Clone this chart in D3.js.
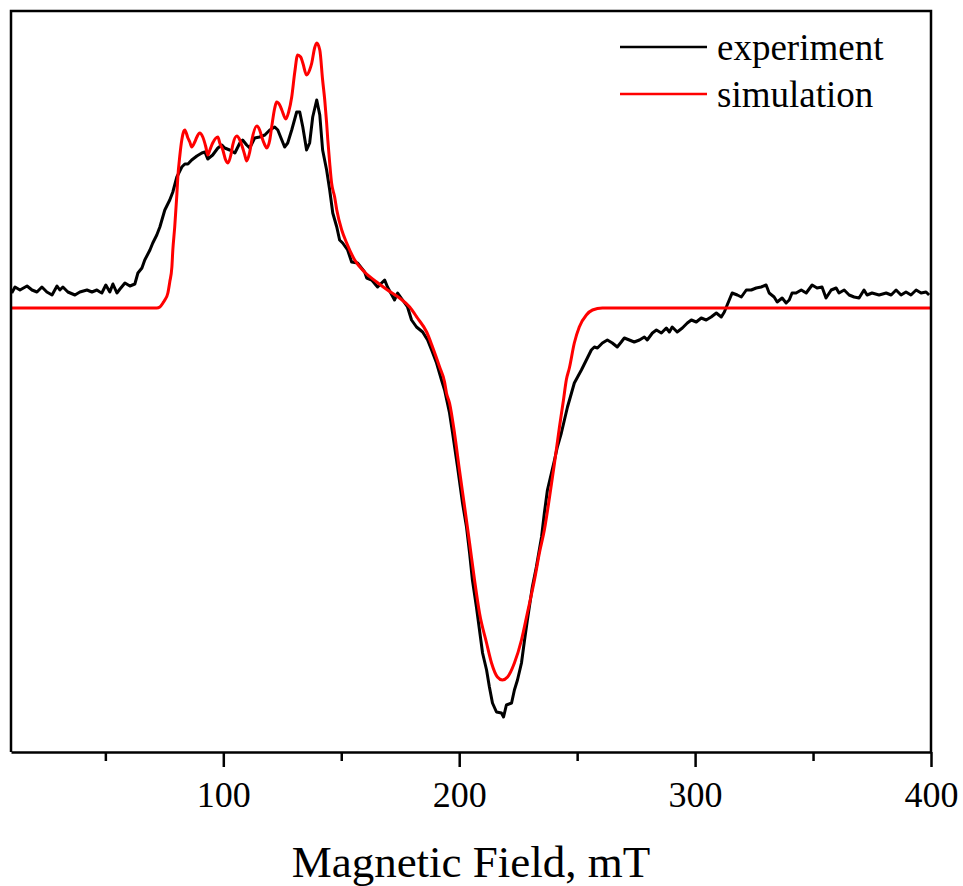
<!DOCTYPE html>
<html>
<head>
<meta charset="utf-8">
<script src="https://cdn.jsdelivr.net/npm/d3@7"></script>
<style>
    html, body { margin: 0; padding: 0; background: #fff; }
    #epr-chart { width: 963px; height: 886px; }
    text { font-family: "Liberation Serif", "Times New Roman", serif; fill: #000; }
</style>
</head>
<body>
<div id="epr-chart"></div>
<script>

// magnetic field (mT) and signal (arb. units)
const expField = [10.3, 11.7, 13.8, 16.8, 18.9, 21.0, 23.1, 25.2, 27.4, 29.5, 30.7, 32.0, 34.1, 37.1, 39.2, 42.2, 44.3, 46.4, 47.7, 48.5,
    50.2, 51.9, 53.2, 54.9, 56.2, 58.3, 60.4, 62.5, 63.8, 65.5, 66.7, 68.9, 70.1, 71.8, 73.1, 75.2, 77.3, 78.6, 80.3, 82.4,
    83.7, 85.0, 86.6, 88.8, 90.9, 92.2, 93.4, 95.5, 97.7, 99.4, 100.6, 102.7, 104.9, 107.0, 108.2, 109.9, 111.2, 113.3, 115.4, 117.6,
    119.7, 121.8, 123.1, 124.8, 126.0, 127.3, 129.0, 131.1, 132.4, 133.7, 135.3, 136.6, 137.9, 139.6, 140.9, 142.1, 143.8, 145.1, 146.4, 148.1,
    149.3, 150.6, 152.7, 154.4, 156.9, 159.9, 160.8, 162.9, 165.4, 168.4, 169.6, 172.6, 173.9, 176.0, 178.1, 179.8, 181.9, 184.5, 186.6, 188.3,
    190.4, 192.5, 193.8, 195.9, 197.2, 199.3, 201.4, 203.1, 204.4, 205.6, 207.3, 208.6, 209.9, 211.6, 212.8, 214.1, 215.8, 217.9, 218.8, 220.0,
    222.2, 223.4, 224.7, 226.4, 227.7, 228.9, 231.0, 232.7, 234.9, 236.1, 237.4, 239.1, 240.4, 241.6, 243.3, 244.6, 245.9, 247.6, 248.8, 251.8,
    253.9, 256.0, 257.3, 258.6, 260.7, 262.8, 264.9, 267.0, 268.7, 270.0, 272.1, 274.2, 276.4, 278.5, 279.7, 281.9, 283.6, 285.7, 287.8, 289.1,
    290.3, 292.4, 294.6, 296.7, 298.4, 300.5, 302.6, 304.7, 306.8, 309.0, 311.1, 312.4, 313.6, 315.7, 317.9, 319.6, 321.7, 323.8, 325.9, 328.0,
    330.1, 331.4, 333.5, 334.8, 336.9, 338.6, 339.9, 341.1, 342.8, 345.0, 347.1, 349.6, 351.7, 353.8, 355.5, 357.7, 359.8, 361.0, 363.2, 365.3,
    367.4, 369.5, 371.6, 372.9, 375.0, 378.0, 381.0, 383.1, 385.2, 387.3, 389.4, 391.5, 393.7, 395.8, 397.9, 399.2];

const expSignal = [0.15, 0.21, 0.18, 0.22, 0.18, 0.16, 0.21, 0.16, 0.13, 0.22, 0.18, 0.21, 0.16, 0.13, 0.16, 0.18, 0.16, 0.18, 0.16, 0.15,
    0.23, 0.16, 0.24, 0.15, 0.19, 0.25, 0.22, 0.24, 0.35, 0.40, 0.48, 0.58, 0.65, 0.73, 0.81, 0.98, 1.08, 1.16, 1.31, 1.41,
    1.44, 1.44, 1.48, 1.52, 1.55, 1.56, 1.49, 1.53, 1.60, 1.63, 1.60, 1.58, 1.55, 1.65, 1.68, 1.63, 1.60, 1.70, 1.71, 1.73,
    1.78, 1.81, 1.78, 1.68, 1.61, 1.65, 1.78, 1.96, 1.96, 1.81, 1.58, 1.65, 1.91, 2.08, 1.93, 1.58, 1.38, 1.18, 0.95, 0.81,
    0.68, 0.65, 0.58, 0.46, 0.45, 0.36, 0.30, 0.28, 0.21, 0.28, 0.21, 0.08, 0.15, 0.08, 0.01, -0.12, -0.19, -0.24, -0.32, -0.42,
    -0.55, -0.72, -0.82, -1.05, -1.25, -1.59, -1.95, -2.19, -2.45, -2.72, -2.99, -3.22, -3.45, -3.62, -3.79, -3.95, -4.04, -4.05, -4.09, -3.97,
    -3.95, -3.82, -3.72, -3.55, -3.32, -3.12, -2.79, -2.59, -2.29, -2.05, -1.82, -1.65, -1.52, -1.39, -1.25, -1.12, -0.99, -0.85, -0.75, -0.62,
    -0.52, -0.42, -0.39, -0.40, -0.35, -0.32, -0.35, -0.39, -0.34, -0.30, -0.32, -0.34, -0.32, -0.29, -0.32, -0.25, -0.22, -0.25, -0.20, -0.24,
    -0.19, -0.24, -0.20, -0.15, -0.12, -0.14, -0.10, -0.12, -0.09, -0.05, -0.09, -0.04, 0.03, 0.15, 0.13, 0.11, 0.18, 0.18, 0.20, 0.21,
    0.23, 0.15, 0.11, 0.06, 0.10, 0.05, 0.08, 0.15, 0.15, 0.18, 0.15, 0.23, 0.20, 0.21, 0.10, 0.18, 0.20, 0.15, 0.18, 0.13,
    0.11, 0.10, 0.18, 0.13, 0.15, 0.13, 0.15, 0.13, 0.18, 0.13, 0.16, 0.13, 0.18, 0.15, 0.16, 0.13];

const simField = [10.0, 71.8, 73.1, 74.4, 75.2, 76.5, 77.3, 78.2, 78.6, 79.4, 80.3, 80.7, 81.6, 82.4, 83.3, 83.7, 85.0, 85.8, 86.6, 87.9,
    88.8, 90.0, 91.3, 92.6, 93.4, 94.3, 95.5, 97.7, 98.5, 99.8, 101.0, 102.0, 103.2, 104.0, 105.7, 107.0, 107.8, 109.1, 109.9, 111.2,
    112.1, 114.2, 115.4, 116.3, 117.6, 118.4, 119.7, 120.5, 121.8, 122.6, 123.9, 124.8, 126.5, 127.7, 129.0, 130.3, 131.5, 132.8, 133.7, 135.3,
    136.6, 137.5, 138.7, 139.6, 140.9, 142.1, 143.0, 143.8, 144.3, 145.1, 145.9, 147.2, 148.1, 150.2, 152.3, 155.7, 159.9, 165.0, 169.6, 174.7,
    179.0, 182.3, 186.2, 188.7, 191.7, 193.8, 194.6, 195.9, 198.0, 200.1, 202.3, 204.4, 206.5, 208.6, 211.6, 213.7, 216.2, 218.3, 220.5, 223.4,
    226.4, 228.9, 231.9, 234.0, 236.1, 238.3, 240.4, 242.5, 244.2, 245.4, 246.7, 248.8, 250.9, 253.9, 256.5, 260.7, 400.0];

const simSignal = [0, 0, 0.01, 0.05, 0.08, 0.15, 0.26, 0.41, 0.58, 0.81, 1.13, 1.30, 1.53, 1.68, 1.77, 1.78, 1.70, 1.66, 1.61, 1.66,
    1.71, 1.75, 1.71, 1.61, 1.53, 1.58, 1.65, 1.71, 1.65, 1.58, 1.48, 1.45, 1.53, 1.63, 1.72, 1.68, 1.63, 1.53, 1.47, 1.56,
    1.68, 1.82, 1.78, 1.71, 1.63, 1.60, 1.68, 1.81, 2.00, 2.06, 2.03, 1.98, 1.89, 1.96, 2.11, 2.36, 2.53, 2.51, 2.45, 2.33,
    2.38, 2.45, 2.60, 2.65, 2.58, 2.28, 2.08, 1.85, 1.68, 1.45, 1.25, 1.11, 0.98, 0.78, 0.65, 0.48, 0.36, 0.26, 0.18, 0.10,
    0.01, -0.10, -0.24, -0.39, -0.59, -0.74, -0.85, -0.95, -1.25, -1.62, -1.99, -2.35, -2.72, -3.05, -3.35, -3.55, -3.69, -3.72, -3.69, -3.55,
    -3.32, -3.05, -2.72, -2.45, -2.22, -1.89, -1.55, -1.19, -0.92, -0.72, -0.60, -0.35, -0.19, -0.07, -0.02, 0, 0];

const majorTicks = [100, 200, 300, 400];
const minorTicks = [50, 150, 250, 350];
const seriesNames = ["experiment", "simulation"];
const seriesColors = ["#000000", "#ff0000"];


class SpectrumChart {

    constructor(parentElement) {
        this.parentElement = parentElement;
        this.initVis();
    }

    initVis() {
        let vis = this;

        vis.margin = {top: 11, right: 32, bottom: 134, left: 11};
        vis.width = 963 - vis.margin.left - vis.margin.right;
        vis.height = 886 - vis.margin.top - vis.margin.bottom;

        vis.svg = d3.select("#" + vis.parentElement)
            .append("svg")
            .attr("width", 963)
            .attr("height", 886)
            .append("g")
            .attr("transform", `translate(${vis.margin.left}, ${vis.margin.top})`);

        vis.x = d3.scaleLinear().domain([10, 400]).range([0, vis.width]);
        vis.y = d3.scaleLinear().domain([-4.44, 2.97]).range([vis.height, 0]);

        // noisy trace drawn straight, simulation smoothed
        vis.expLine = d3.line()
            .x(d => vis.x(d[0]))
            .y(d => vis.y(d[1]));

        vis.simLine = d3.line()
            .x(d => vis.x(d[0]))
            .y(d => vis.y(d[1]))
            .curve(d3.curveMonotoneX);

        let experiment = expField.map((f, i) => [f, expSignal[i]]);
        let simulation = simField.map((f, i) => [f, simSignal[i]]);

        vis.svg.append("path")
            .datum(experiment)
            .attr("fill", "none")
            .attr("stroke", seriesColors[0])
            .attr("stroke-width", 3)
            .attr("stroke-linejoin", "round")
            .attr("d", vis.expLine);

        vis.svg.append("path")
            .datum(simulation)
            .attr("fill", "none")
            .attr("stroke", seriesColors[1])
            .attr("stroke-width", 3)
            .attr("stroke-linejoin", "round")
            .attr("d", vis.simLine);

        // frame (no left/top/right ticks)
        vis.svg.append("path")
            .attr("d", `M0,${vis.height}V0H${vis.width}V${vis.height}`)
            .attr("fill", "none")
            .attr("stroke", "#000")
            .attr("stroke-width", 2.5);

        // x axis, major ticks with labels
        let xAxis = vis.svg.append("g")
            .attr("transform", `translate(0, ${vis.height})`)
            .call(d3.axisBottom(vis.x)
                .tickValues(majorTicks)
                .tickSize(15)
                .tickSizeOuter(0)
                .tickPadding(14)
                .tickFormat(d3.format("d")));

        xAxis.select(".domain").attr("stroke-width", 2.5);
        xAxis.selectAll(".tick line").attr("stroke-width", 2.5);
        xAxis.selectAll(".tick text")
            .style("font-family", "'Liberation Serif', 'Times New Roman', serif")
            .style("font-size", "36px");

        // minor ticks
        vis.svg.append("g")
            .attr("transform", `translate(0, ${vis.height})`)
            .call(d3.axisBottom(vis.x).tickValues(minorTicks).tickSize(9).tickSizeOuter(0).tickFormat(""))
            .call(g => g.select(".domain").remove())
            .selectAll(".tick line").attr("stroke-width", 2.5);

        // axis title
        vis.svg.append("text")
            .attr("x", vis.width / 2)
            .attr("y", 866)
            .attr("text-anchor", "middle")
            .style("font-size", "45px")
            .text("Magnetic Field, mT");

        // legend
        let legend = vis.svg.selectAll(".legend-item")
            .data(seriesNames)
            .enter()
            .append("g")
            .attr("class", "legend-item")
            .attr("transform", (d, i) => `translate(609, ${36 + i * 47})`);

        legend.append("line")
            .attr("x1", 0).attr("x2", 87)
            .attr("stroke", (d, i) => seriesColors[i])
            .attr("stroke-width", 2.5);

        legend.append("text")
            .attr("x", 97)
            .attr("y", 13)
            .style("font-size", "37px")
            .text(d => d);
    }
}

new SpectrumChart("epr-chart");

</script>
</body>
</html>
